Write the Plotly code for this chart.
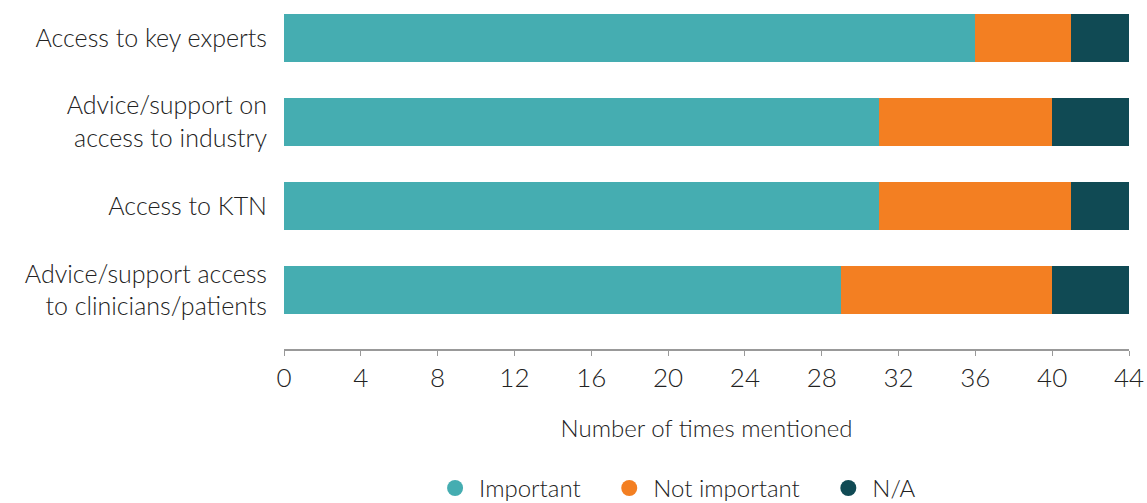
import plotly.graph_objects as go

categories = ["Access to key experts",
              "Advice/support on<br>access to industry",
              "Access to KTN",
              "Advice/support access<br>to clinicians/patients"]
important = [36, 31, 31, 29]
not_important = [5, 9, 10, 11]
na = [3, 4, 3, 4]
x_ticks = [0, 4, 8, 12, 16, 20, 24, 28, 32, 36, 40, 44]

series = [("Important", important, "#45ADB1"),
          ("Not important", not_important, "#F37F22"),
          ("N/A", na, "#104A54")]
legend_suffix = ["   ", "   ", ""]

FONT = "Lato"
fig = go.Figure()
for name, vals, col in series:
    fig.add_trace(go.Bar(y=categories, x=vals, orientation="h", name=name,
                         marker=dict(color=col, line=dict(width=0)),
                         showlegend=False))
for (name, vals, col), suf in zip(series, legend_suffix):
    fig.add_trace(go.Scatter(x=[None], y=[None], mode="markers", name=name + suf,
                             marker=dict(symbol="circle", size=16, color=col),
                             showlegend=True))

fig.update_layout(
    width=1147, height=503,
    margin=dict(l=284, r=18, t=0, b=154, autoexpand=False),
    barmode="stack", bargap=0.43,
    plot_bgcolor="white", paper_bgcolor="white",
    font=dict(family=FONT, size=24, color="#222222", weight=300),
    xaxis=dict(range=[0, 44], tickvals=x_ticks, showgrid=False, zeroline=False,
               showline=True, linecolor="#999999", linewidth=1.5,
               ticks="outside", ticklen=5, tickcolor="#999999",
               tickfont=dict(size=26, weight=300), automargin=False,
               title=dict(text="Number of times mentioned",
                          font=dict(size=24, weight=300), standoff=28)),
    yaxis=dict(categoryorder="array", categoryarray=categories,
               range=[3.702, -0.452], showgrid=False, zeroline=False,
               showline=False, ticks="", ticklabelstandoff=16, automargin=False,
               tickfont=dict(size=25, weight=300)),
    legend=dict(orientation="h", x=0.464, xanchor="center", y=-0.335, yanchor="top",
                yref="paper", font=dict(size=24, weight=300), itemsizing="trace",
                itemwidth=38, traceorder="normal"),
)
fig.write_html("out.html", config={"displayModeBar": False},
               post_script="document.body.style.margin='0';document.body.style.overflow='hidden';")
